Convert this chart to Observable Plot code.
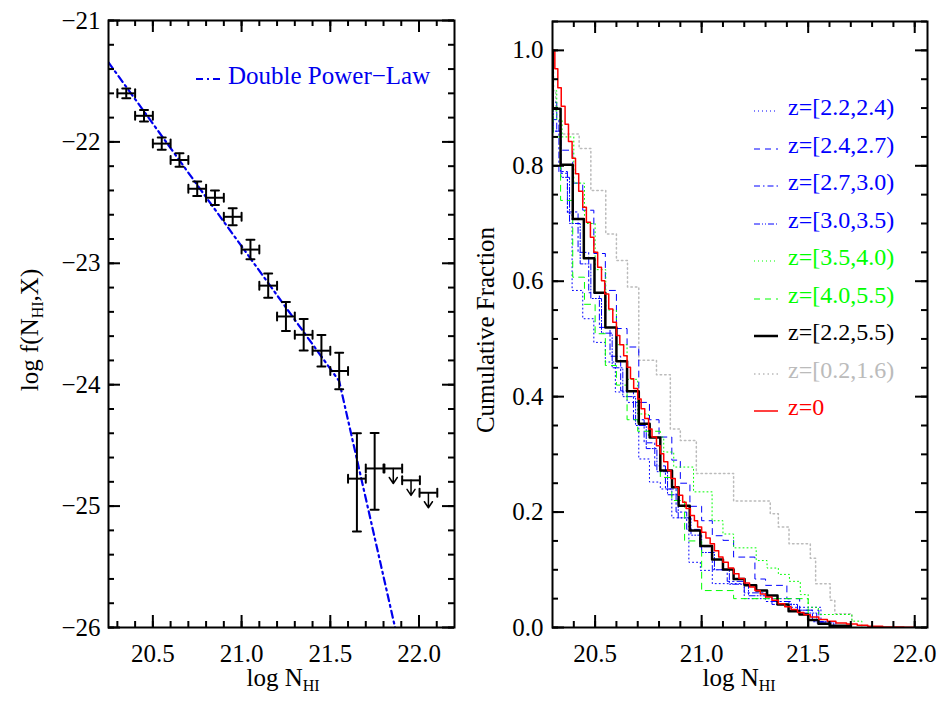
<!DOCTYPE html>
<html><head><meta charset="utf-8">
<script src="https://cdn.jsdelivr.net/npm/d3@7"></script>
<script src="https://cdn.jsdelivr.net/npm/@observablehq/plot@0.6"></script>
<style>
body{margin:0;background:#fff;}
#wrap{position:relative;width:941px;height:715px;font-family:"Liberation Serif","Times New Roman",serif;color:#000;}
.abs{position:absolute;white-space:nowrap;line-height:1;}
.abs sub{font-size:16px;vertical-align:-5px;line-height:0;}
.pl{position:absolute;top:0;}
</style></head><body><div id="wrap"></div><script>
// ---------- LEFT PANEL DATA ----------
const fX   = [20.35,20.45,20.55,20.65,20.75,20.85,20.95,21.05,21.15,21.25,21.35,21.45,21.55,21.65,21.75];
const fY   = [-21.60,-21.785,-22.014,-22.149,-22.386,-22.46,-22.617,-22.887,-23.184,-23.438,-23.589,-23.72,-23.887,-24.774,-24.69];
const fYhi = [-21.56,-21.738,-21.964,-22.094,-22.326,-22.40,-22.547,-22.807,-23.084,-23.318,-23.459,-23.59,-23.737,-24.40,-24.397];
const fYlo = [-21.64,-21.832,-22.064,-22.204,-22.446,-22.52,-22.687,-22.967,-23.284,-23.558,-23.719,-23.85,-24.037,-25.21,-25.03];
const ulX  = [21.855,21.955,22.053];
const ulY  = [-24.69,-24.788,-24.89];
const binHalf = 0.05;
const dplX = [20.25,21.55,21.865];
const dplY = [-21.345,-23.97,-26.0];
const leftXTicks = [20.5,21.0,21.5,22.0];
const leftYTicks = [-21,-22,-23,-24,-25,-26];

// ---------- RIGHT PANEL DATA (cumulative fractions, step curves) ----------
const z0X = [20.300,20.311,20.325,20.341,20.359,20.375,20.392,20.408,20.423,20.442,20.459,20.478,20.494,20.512,20.530,20.545,20.564,20.583,20.600,20.616,20.634,20.650,20.666,20.681,20.700,20.716,20.733,20.751,20.767,20.788,20.806,20.822,20.841,20.856,20.876,20.892,20.911,20.927,20.947,20.966,20.981,21.000,21.02,21.04,21.06,21.08,21.10,21.125,21.15,21.175,21.20,21.225,21.25,21.275,21.30,21.33,21.36,21.39,21.42,21.45,21.48,21.51,21.55,21.59,21.63,21.68,21.73,21.78,21.85,21.95,22.0];
const z0Y = [1.000,0.968,0.935,0.903,0.872,0.842,0.813,0.786,0.756,0.728,0.702,0.676,0.650,0.624,0.601,0.578,0.552,0.529,0.506,0.490,0.471,0.451,0.431,0.414,0.396,0.379,0.362,0.344,0.330,0.315,0.301,0.287,0.272,0.258,0.243,0.229,0.217,0.206,0.194,0.185,0.174,0.165,0.155,0.145,0.133,0.122,0.113,0.103,0.093,0.085,0.077,0.070,0.064,0.058,0.053,0.047,0.041,0.036,0.031,0.026,0.022,0.018,0.014,0.011,0.008,0.006,0.004,0.002,0.001,0.0003,0];
const allX = [20.300,20.301,20.338,20.395,20.447,20.497,20.548,20.600,20.650,20.705,20.756,20.806,20.861,20.892,20.944,20.994,21.049,21.100,21.150,21.2015,21.256,21.307,21.356,21.408,21.459,21.50,21.548,21.603,21.70];
const allY = [1.0,0.899,0.802,0.708,0.640,0.580,0.520,0.4615,0.4095,0.353,0.329,0.272,0.243,0.211,0.168,0.141,0.118,0.1005,0.084,0.073,0.064,0.0555,0.040,0.028,0.0225,0.013,0.0064,0.003,0];
const lowzX = [20.300,20.305,20.315,20.335,20.425,20.480,20.550,20.600,20.652,20.705,20.788,20.853,20.900,20.975,21.150,21.322,21.360,21.410,21.510,21.535,21.603,21.625,21.705];
const lowzY = [1.0,0.93,0.895,0.855,0.830,0.757,0.682,0.636,0.590,0.463,0.438,0.344,0.324,0.267,0.219,0.197,0.174,0.145,0.120,0.076,0.047,0.024,0];
const b1X = [20.300,20.302,20.338,20.370,20.392,20.442,20.494,20.548,20.595,20.650,20.705,20.755,20.806,20.860,20.940,20.994,21.050,21.200,21.410,21.560,21.630];
const b1Y = [1.0,0.86,0.787,0.717,0.584,0.535,0.494,0.46,0.408,0.39,0.292,0.252,0.240,0.19,0.113,0.099,0.076,0.050,0.035,0.010,0];
const b2X = [20.300,20.303,20.320,20.338,20.395,20.442,20.494,20.548,20.600,20.650,20.705,20.755,20.800,20.860,20.900,20.945,21.000,21.050,21.100,21.150,21.250,21.300,21.400,21.460,21.550,21.600];
const b2Y = [1.0,0.91,0.86,0.827,0.77,0.723,0.648,0.584,0.518,0.486,0.39,0.36,0.33,0.29,0.25,0.21,0.185,0.159,0.151,0.122,0.084,0.073,0.05,0.03,0.01,0];
const b3X = [20.300,20.302,20.330,20.370,20.420,20.470,20.520,20.570,20.620,20.680,20.730,20.780,20.830,20.880,20.930,20.990,21.050,21.120,21.200,21.300,21.420,21.520,21.600];
const b3Y = [1.0,0.88,0.79,0.72,0.65,0.58,0.52,0.47,0.41,0.36,0.32,0.28,0.24,0.20,0.17,0.14,0.10,0.08,0.06,0.045,0.03,0.01,0];
const b4X = [20.300,20.303,20.340,20.380,20.430,20.480,20.530,20.580,20.630,20.690,20.740,20.790,20.840,20.890,20.950,21.000,21.060,21.130,21.220,21.330,21.450,21.540,21.620];
const b4Y = [1.0,0.86,0.78,0.70,0.63,0.57,0.51,0.45,0.40,0.35,0.31,0.27,0.23,0.19,0.16,0.13,0.10,0.075,0.055,0.04,0.025,0.008,0];
const g1X = [20.300,20.303,20.320,20.345,20.400,20.450,20.500,20.550,20.600,20.650,20.700,20.750,20.822,20.869,20.962,21.049,21.100,21.150,21.256,21.307,21.360,21.412,21.463,21.500,21.548,21.705,21.752];
const g1Y = [1.0,0.93,0.88,0.85,0.77,0.70,0.62,0.55,0.49,0.43,0.37,0.33,0.304,0.278,0.235,0.185,0.162,0.138,0.116,0.103,0.092,0.080,0.057,0.035,0.0225,0.011,0];
const g2X = [20.300,20.303,20.338,20.395,20.450,20.500,20.548,20.600,20.650,20.700,20.806,20.860,20.920,21.000,21.150,21.500];
const g2Y = [1.0,0.85,0.74,0.607,0.56,0.509,0.454,0.42,0.36,0.34,0.26,0.22,0.15,0.064,0.05,0];
const rightXTicks = [20.5,21.0,21.5,22.0];
const rightYTicks = [0.0,0.2,0.4,0.6,0.8,1.0];

const BLUE="#0000ff", GREEN="#00ff00", GRAY="#bbbbbb", RED="#ff0000", BLACK="#000000";
const series = [
  {label:"z=[0.2,1.6)", x:lowzX, y:lowzY, color:GRAY,  dash:"1.5,3",      w:1.5},
  {label:"z=[2.2,2.4)", x:b1X,   y:b1Y,   color:BLUE,  dash:"1,3",        w:1},
  {label:"z=[2.4,2.7)", x:b2X,   y:b2Y,   color:BLUE,  dash:"6,5",        w:1},
  {label:"z=[2.7,3.0)", x:b3X,   y:b3Y,   color:BLUE,  dash:"6,3,1.5,3",  w:1},
  {label:"z=[3.0,3.5)", x:b4X,   y:b4Y,   color:BLUE,  dash:"6,2,1,2,1,2",w:1},
  {label:"z=[3.5,4.0)", x:g1X,   y:g1Y,   color:GREEN, dash:"1,3",        w:1},
  {label:"z=[4.0,5.5)", x:g2X,   y:g2Y,   color:GREEN, dash:"6,5",        w:1},
  {label:"z=[2.2,5.5)", x:allX,  y:allY,  color:BLACK, dash:null,         w:2.5},
  {label:"z=0",         x:z0X,   y:z0Y,   color:RED,   dash:null,         w:1.5}
];
const legendOrder = ["z=[2.2,2.4)","z=[2.4,2.7)","z=[2.7,3.0)","z=[3.0,3.5)","z=[3.5,4.0)","z=[4.0,5.5)","z=[2.2,5.5)","z=[0.2,1.6)","z=0"];

// ---------- helpers ----------
const FONT = "Liberation Serif, Times New Roman, serif";
const H = 715;
function boxTicks(xMaj, xMin, yMaj, yMin, fw, fh) {
  const L = 12, S = 6, sw = 2;
  return [
    Plot.tickX(xMin, {x: d => d, insetTop: fh - S, stroke: "black", strokeWidth: sw}),
    Plot.tickX(xMin, {x: d => d, insetBottom: fh - S, stroke: "black", strokeWidth: sw}),
    Plot.tickX(xMaj, {x: d => d, insetTop: fh - L, stroke: "black", strokeWidth: sw}),
    Plot.tickX(xMaj, {x: d => d, insetBottom: fh - L, stroke: "black", strokeWidth: sw}),
    Plot.tickY(yMin, {y: d => d, insetRight: fw - S, stroke: "black", strokeWidth: sw}),
    Plot.tickY(yMin, {y: d => d, insetLeft: fw - S, stroke: "black", strokeWidth: sw}),
    Plot.tickY(yMaj, {y: d => d, insetRight: fw - L, stroke: "black", strokeWidth: sw}),
    Plot.tickY(yMaj, {y: d => d, insetLeft: fw - L, stroke: "black", strokeWidth: sw})
  ];
}
const capV = {draw(ctx, l) { ctx.moveTo(0, 0); ctx.lineTo(0, -l); }};
const arrowDown = {draw(ctx, l) { ctx.moveTo(0, 0); ctx.lineTo(0, -l); ctx.moveTo(-4, -l + 6); ctx.lineTo(0, -l); ctx.lineTo(4, -l + 6); }};

const wrap = document.getElementById("wrap");

// ---------- LEFT PLOT ----------
{
  const W = 470, mL = 108, mR = 16, mT = 20, mB = 88;
  const xd = [20.25, 22.2], yd = [-26, -21];
  const fw = W - mL - mR, fh = H - mT - mB;
  const pts = fX.map((x, i) => ({x, y: fY[i], hi: fYhi[i], lo: fYlo[i], x1: x - binHalf, x2: x + binHalf}));
  const ul = ulX.map((x, i) => ({x, y: ulY[i], x1: x - binHalf, x2: x + binHalf}));
  const dpl = dplX.map((x, i) => ({x, y: dplY[i]}));
  const xMin = d3.range(20.3, 22.15, 0.1).map(v => +v.toFixed(1));
  const yMin = d3.range(-26, -20.9, 0.2).map(v => +v.toFixed(1));
  const plot = Plot.plot({
    width: W, height: H, marginLeft: mL, marginRight: mR, marginTop: mT, marginBottom: mB,
    style: {fontFamily: FONT, fontSize: "25px", color: "black", background: "transparent"},
    x: {domain: xd, label: null},
    y: {domain: yd, label: null},
    marks: [
      Plot.line(dpl, {x: "x", y: "y", stroke: "#0000ee", strokeWidth: 2.2, strokeDasharray: "7,4,2,4", clip: true}),
      Plot.ruleY(pts, {y: "y", x1: "x1", x2: "x2", stroke: "black", strokeWidth: 2}),
      Plot.ruleX(pts, {x: "x", y1: "lo", y2: "hi", stroke: "black", strokeWidth: 2}),
      Plot.vector(pts, {x: "x", y: "hi", length: 8, rotate: 90, anchor: "middle", shape: capV, stroke: "black", strokeWidth: 2}),
      Plot.vector(pts, {x: "x", y: "lo", length: 8, rotate: 90, anchor: "middle", shape: capV, stroke: "black", strokeWidth: 2}),
      Plot.vector(pts, {x: "x1", y: "y", length: 8, rotate: 0, anchor: "middle", shape: capV, stroke: "black", strokeWidth: 2}),
      Plot.vector(pts, {x: "x2", y: "y", length: 8, rotate: 0, anchor: "middle", shape: capV, stroke: "black", strokeWidth: 2}),
      Plot.ruleY(ul, {y: "y", x1: "x1", x2: "x2", stroke: "black", strokeWidth: 2}),
      Plot.vector(ul, {x: "x1", y: "y", length: 8, rotate: 0, anchor: "middle", shape: capV, stroke: "black", strokeWidth: 2}),
      Plot.vector(ul, {x: "x2", y: "y", length: 8, rotate: 0, anchor: "middle", shape: capV, stroke: "black", strokeWidth: 2}),
      Plot.vector(ul, {x: "x", y: "y", length: 15, rotate: 180, anchor: "start", shape: arrowDown, stroke: "black", strokeWidth: 1.5}),
      ...boxTicks(leftXTicks, xMin, leftYTicks, yMin, fw, fh),
      Plot.axisX({ticks: leftXTicks, tickSize: 0, tickPadding: 17, tickFormat: ".1f", label: null, fontSize: 25}),
      Plot.axisY({ticks: leftYTicks, tickSize: 0, tickPadding: 8, tickFormat: "d", label: null, fontSize: 25}),
      Plot.frame({stroke: "black", strokeWidth: 2})
    ]
  });
  plot.classList.add("pl"); plot.style.left = "0px";
  wrap.appendChild(plot);
}

// ---------- RIGHT PLOT ----------
{
  const W = 471, mL = 82, mR = 14, mT = 21, mB = 88;
  const xd = [20.3, 22.06], yd = [0, 1.05];
  const fw = W - mL - mR, fh = H - mT - mB;
  const xMin = d3.range(20.4, 22.05, 0.1).map(v => +v.toFixed(1));
  const yMin = d3.range(0, 1.051, 0.05).map(v => +v.toFixed(2));
  const lineMarks = series.map(s => Plot.line(s.x.map((x, i) => ({x, y: s.y[i]})), {
    x: "x", y: "y", curve: "step-after", stroke: s.color, strokeWidth: s.w,
    strokeDasharray: s.dash || undefined, clip: true
  }));
  const plot = Plot.plot({
    width: W, height: H, marginLeft: mL, marginRight: mR, marginTop: mT, marginBottom: mB,
    style: {fontFamily: FONT, fontSize: "25px", color: "black", background: "transparent"},
    x: {domain: xd, label: null},
    y: {domain: yd, label: null},
    marks: [
      ...lineMarks,
      ...boxTicks(rightXTicks, xMin, rightYTicks, yMin, fw, fh),
      Plot.axisX({ticks: rightXTicks, tickSize: 0, tickPadding: 17, tickFormat: ".1f", label: null, fontSize: 25}),
      Plot.axisY({ticks: rightYTicks, tickSize: 0, tickPadding: 9, tickFormat: ".1f", label: null, fontSize: 25}),
      Plot.frame({stroke: "black", strokeWidth: 2})
    ]
  });
  plot.classList.add("pl"); plot.style.left = "470px";
  wrap.appendChild(plot);
}

// ---------- TEXT: axis titles & legends ----------
function addDiv(html, css) {
  const d = document.createElement("div");
  d.className = "abs"; d.innerHTML = html;
  Object.assign(d.style, css);
  wrap.appendChild(d);
  return d;
}
function sample(dash, color, w) {
  return `<svg width="24" height="10" style="vertical-align:middle"><line x1="0" x2="24" y1="5" y2="5" stroke="${color}" stroke-width="${w}" ${dash ? `stroke-dasharray="${dash}"` : ""}/></svg>`;
}
addDiv("log f(N<sub>HI</sub>,X)", {left: "29px", top: "330px", fontSize: "25px", transform: "translate(-50%,-50%) rotate(-90deg)"});
addDiv("Cumulative Fraction", {left: "485px", top: "330px", fontSize: "25px", transform: "translate(-50%,-50%) rotate(-90deg)"});
addDiv("log N<sub>HI</sub>", {left: "283px", top: "677px", fontSize: "25px", transform: "translate(-50%,-50%)"});
addDiv("log N<sub>HI</sub>", {left: "739px", top: "677px", fontSize: "25px", transform: "translate(-50%,-50%)"});
addDiv(sample("7,4,2,4", "#0000ee", 2.2), {left: "196px", top: "70px"});
addDiv("Double Power−Law", {left: "228px", top: "63px", fontSize: "25px", color: "#0000ee"});
legendOrder.forEach((lab, i) => {
  const s = series.find(d => d.label === lab);
  const yc = 107 + i * 37.5;
  addDiv(sample(s.dash, s.color, s.w), {left: "754px", top: (yc - 5) + "px"});
  addDiv(lab, {left: "788px", top: (yc - 12) + "px", fontSize: "24px", color: s.color});
});
</script></body></html>
